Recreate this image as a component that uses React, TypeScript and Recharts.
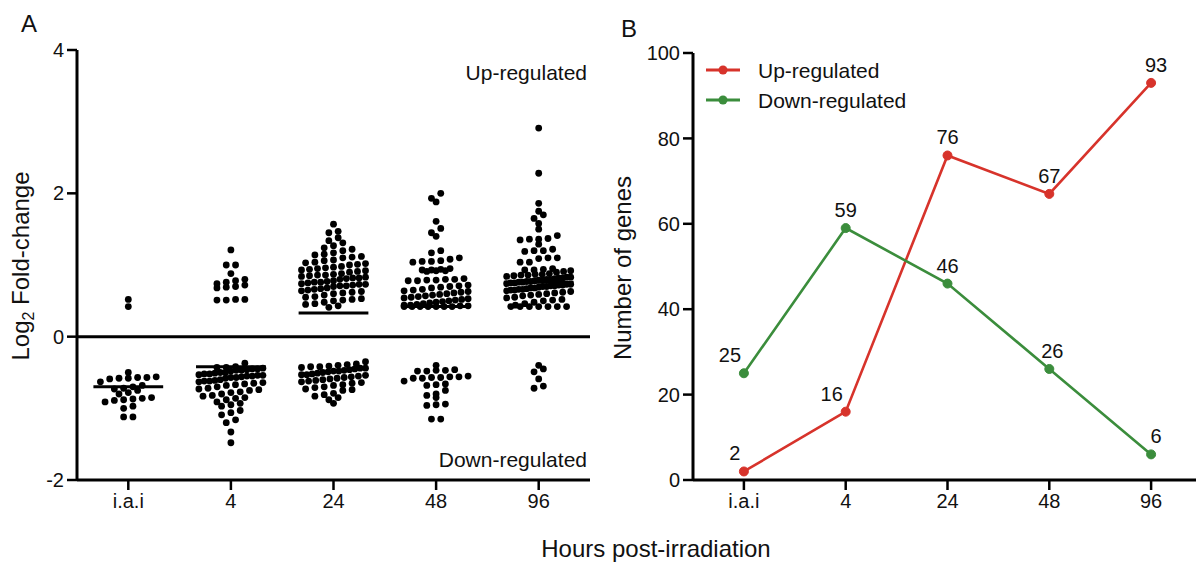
import React from 'react';
import { ScatterChart, Scatter, XAxis, YAxis, ReferenceLine, LineChart, Line, LabelList, Legend } from 'recharts';

// ---------- DATA ----------
const categories = ['i.a.i', '4', '24', '48', '96'];
const seriesNames = ['Up-regulated', 'Down-regulated'];

// Panel A: log2 fold-change of each regulated gene
const upIai = [0.42, 0.52];
const up4 = [1.21, 1.0, 1.0, 0.88, 0.8, 0.78, 0.76, 0.74, 0.72, 0.7, 0.69, 0.68, 0.52, 0.52, 0.51, 0.51];
const up24 = [
  1.57, 1.47, 1.45, 1.38, 1.34, 1.31, 1.27, 1.24, 1.22, 1.2,
  1.17, 1.15, 1.14, 1.12, 1.11, 1.1, 1.07, 1.06, 1.04, 1.03, 1.02, 1.01, 1.0,
  0.98, 0.97, 0.96, 0.95, 0.94, 0.93, 0.92, 0.91, 0.9,
  0.88, 0.87, 0.86, 0.86, 0.85, 0.84, 0.83, 0.82, 0.82, 0.81, 0.8,
  0.78, 0.77, 0.76, 0.76, 0.75, 0.74, 0.73, 0.73, 0.72, 0.71, 0.71, 0.7,
  0.68, 0.67, 0.66, 0.65, 0.64, 0.63, 0.62, 0.61, 0.6,
  0.58, 0.56, 0.55, 0.53, 0.52, 0.51, 0.5,
  0.48, 0.46, 0.45, 0.43, 0.41,
];
const up48 = [
  2.0, 1.93, 1.88, 1.61, 1.51, 1.45, 1.4, 1.2, 1.17, 1.1, 1.08,
  1.06, 1.05, 1.05, 1.04,
  0.95, 0.94, 0.93, 0.93, 0.92, 0.92, 0.91,
  0.81, 0.8, 0.8, 0.79, 0.79, 0.78, 0.78,
  0.72, 0.71, 0.7, 0.69, 0.68,
  0.66, 0.65, 0.64, 0.63, 0.62, 0.61, 0.6, 0.59, 0.58, 0.57, 0.56, 0.55, 0.54,
  0.53, 0.52, 0.51, 0.5, 0.49, 0.48, 0.47, 0.46, 0.45, 0.44, 0.44, 0.43, 0.43,
  0.42, 0.42, 0.42, 0.42, 0.42, 0.42, 0.42,
];
const up96 = [
  2.91, 2.28, 1.86, 1.75, 1.7, 1.65, 1.58, 1.5,
  1.41, 1.37, 1.36, 1.36, 1.35, 1.29,
  1.22, 1.2, 1.2, 1.19, 1.1, 1.1, 1.09, 1.04, 1.04,
  0.95, 0.94, 0.93, 0.93, 0.92, 0.91, 0.9,
  0.88, 0.87, 0.87, 0.86, 0.86, 0.85,
  0.84, 0.83, 0.83, 0.82, 0.82, 0.81, 0.8, 0.8,
  0.79, 0.79, 0.78, 0.77, 0.77, 0.76, 0.76, 0.75, 0.75,
  0.74, 0.73, 0.73, 0.72, 0.72, 0.71, 0.71, 0.7, 0.7,
  0.69, 0.68, 0.68, 0.67, 0.66, 0.66, 0.65, 0.65,
  0.64, 0.63, 0.62, 0.61, 0.6, 0.59, 0.58,
  0.57, 0.55, 0.54, 0.52, 0.51, 0.5,
  0.48, 0.46, 0.44,
  0.42, 0.42, 0.42, 0.42, 0.42, 0.42, 0.42,
];
const downIai = [
  -0.5, -0.56, -0.57, -0.57, -0.58, -0.58, -0.59, -0.63, -0.68, -0.7, -0.72, -0.73, -0.75,
  -0.78, -0.8, -0.85, -0.86, -0.87, -0.88, -0.89, -0.91, -0.97, -1.0, -1.12, -1.12,
];
const down4 = [
  -0.37,
  -0.42, -0.43, -0.43, -0.44, -0.45, -0.45, -0.46, -0.47, -0.47, -0.48,
  -0.5, -0.5, -0.51, -0.52, -0.52, -0.53, -0.54, -0.54, -0.55, -0.55, -0.56, -0.57, -0.57, -0.58,
  -0.6, -0.61, -0.62, -0.62, -0.63, -0.64, -0.65, -0.66, -0.67, -0.68,
  -0.7, -0.72, -0.73, -0.74, -0.75, -0.77, -0.78,
  -0.8, -0.82, -0.83, -0.85, -0.86, -0.88,
  -0.91, -0.93, -0.95, -0.97,
  -1.03, -1.06, -1.09, -1.16, -1.2, -1.33, -1.48,
];
const down24 = [
  -0.35,
  -0.38, -0.39, -0.4, -0.41, -0.42, -0.42, -0.43, -0.44, -0.44, -0.45,
  -0.46, -0.47, -0.48, -0.48, -0.49, -0.5, -0.51, -0.52, -0.53, -0.53, -0.54, -0.55,
  -0.56, -0.57, -0.58, -0.59, -0.6, -0.61, -0.62, -0.63, -0.64, -0.65,
  -0.67, -0.68, -0.7, -0.71, -0.73, -0.74, -0.75,
  -0.79, -0.81, -0.83, -0.85, -0.88, -0.93,
];
const down48 = [
  -0.4, -0.46, -0.47, -0.47, -0.48, -0.48, -0.55, -0.56, -0.56, -0.57, -0.57, -0.58, -0.58,
  -0.62, -0.66, -0.67, -0.68, -0.75, -0.8, -0.82, -0.85, -0.94, -0.95, -0.96, -1.15, -1.15,
];
const down96 = [-0.4, -0.45, -0.49, -0.59, -0.69, -0.72];

const upGroups = [upIai, up4, up24, up48, up96];
const downGroups = [downIai, down4, down24, down48, down96];

// horizontal bars drawn over some groups
const barGroups = [0, 1, 2, 3, 4];
const barValues = [-0.7, -0.42, 0.33, 0.42, 0.76];

// Panel B: number of genes
const upCounts = [2, 16, 76, 67, 93];
const downCounts = [25, 59, 46, 26, 6];

// ---------- STYLE / LAYOUT ----------
const FONT = '"Liberation Sans", Arial, Helvetica, sans-serif';
const TXT = '#111';
const RED = '#d7332b';
const GREEN = '#3b8d3c';

const A_W = 600;
const A_H = 563;
const X_H = 30;
const A_M = { top: 50, right: 10, bottom: 83 - X_H, left: 27 };
const A_YW = 50;
const A_PLOT_W = A_W - A_M.left - A_YW - A_M.right;
const A_PLOT_H = A_H - A_M.top - A_M.bottom - X_H;
const PX_PER_X = A_PLOT_W / 5;
const PX_PER_Y = A_PLOT_H / 6;
const DOT_R = 3.4;
const ROW_H = 7;
const DOT_GAP = 9.3;
const MAX_ROW_W = 64;

const redLabelDx = [-9, -14, 0, 0, 5];
const greenLabelDx = [-14, 0, 0, 3, 5];

// column-scatter layout: values binned into rows, each row spread symmetrically
function swarmOffsets(values: number[]): number[] {
  const rows = new Map<number, number[]>();
  values.forEach((v, i) => {
    const r = Math.round((v * PX_PER_Y) / ROW_H);
    if (!rows.has(r)) rows.set(r, []);
    rows.get(r)!.push(i);
  });
  const out = new Array(values.length).fill(0);
  rows.forEach((idxs) => {
    idxs.sort((a, b) => values[a] - values[b]);
    const n = idxs.length;
    const sp = n > 1 ? Math.min(DOT_GAP, MAX_ROW_W / (n - 1)) : 0;
    idxs.forEach((i, j) => {
      out[i] = (j - (n - 1) / 2) * sp;
    });
  });
  return out;
}

const scatterPoints: { x: number; y: number }[] = [];
[upGroups, downGroups].forEach((groups) => {
  groups.forEach((vals, gi) => {
    const offs = swarmOffsets(vals);
    vals.forEach((v, j) => scatterPoints.push({ x: gi + offs[j] / PX_PER_X, y: v }));
  });
});

const lineData = categories.map((c, i) => ({ x: i, cat: c, up: upCounts[i], down: downCounts[i] }));

const tickStyle = { fontSize: 20, fontFamily: FONT, fill: TXT };
const catFormatter = (v: number) => categories[v] ?? '';

const Dot = (props: any) => <circle cx={props.cx} cy={props.cy} r={DOT_R} fill="#000" />;

const makeLabel = (dxs: number[]) => (props: any) => {
  const { x, y, value, index } = props;
  return (
    <text x={x + dxs[index]} y={y - 11} textAnchor="middle" fontSize={20} fontFamily={FONT} fill={TXT}>
      {value}
    </text>
  );
};

const LegendContent = (props: any) => {
  const items = [...(props.payload || [])].sort(
    (a: any, b: any) => seriesNames.indexOf(a.value) - seriesNames.indexOf(b.value)
  );
  return (
    <svg width={220} height={60} style={{ position: 'absolute', left: 0, top: 0, overflow: 'visible' }}>
      {items.map((it: any, i: number) => {
        const y = 15 + i * 30;
        return (
          <g key={i}>
            <line x1={0} y1={y} x2={34} y2={y} stroke={it.color} strokeWidth={3} />
            <circle cx={17} cy={y} r={4.5} fill={it.color} />
            <text x={52} y={y + 7.5} fontSize={21} fontFamily={FONT} fill={TXT}>
              {it.value}
            </text>
          </g>
        );
      })}
    </svg>
  );
};

export default function App() {
  return (
    <div style={{ position: 'absolute', left: 0, top: 0, width: 1196, height: 563, overflow: 'hidden', background: '#fff' }}>
      <div style={{ position: 'absolute', left: 0, top: 0 }}>
        <ScatterChart width={A_W} height={A_H} margin={A_M}>
          <XAxis
            type="number"
            dataKey="x"
            height={X_H}
            domain={[-0.5, 4.5]}
            ticks={[0, 1, 2, 3, 4]}
            interval={0}
            tickFormatter={catFormatter}
            axisLine={{ stroke: '#000', strokeWidth: 3 }}
            tickLine={{ stroke: '#000', strokeWidth: 2.5 }}
            tickSize={10}
            tickMargin={4}
            tick={tickStyle}
            allowDataOverflow
          />
          <YAxis
            type="number"
            dataKey="y"
            width={A_YW}
            domain={[-2, 4]}
            ticks={[-2, 0, 2, 4]}
            interval={0}
            axisLine={{ stroke: '#000', strokeWidth: 3 }}
            tickLine={{ stroke: '#000', strokeWidth: 2.5 }}
            tickSize={10}
            tickMargin={3}
            tick={tickStyle}
            allowDataOverflow
          />
          <ReferenceLine y={0} stroke="#000" strokeWidth={3} />
          {barGroups.map((g, i) => (
            <ReferenceLine
              key={i}
              segment={[
                { x: g - 0.34, y: barValues[i] },
                { x: g + 0.34, y: barValues[i] },
              ]}
              stroke="#000"
              strokeWidth={3}
            />
          ))}
          <Scatter data={scatterPoints} shape={Dot} isAnimationActive={false} />
        </ScatterChart>
      </div>

      <div style={{ position: 'absolute', left: 600, top: 0 }}>
        <LineChart width={610} height={563} data={lineData} margin={{ top: 53, right: 8, bottom: 83 - X_H, left: 33 }}>
          <XAxis
            type="number"
            dataKey="x"
            height={X_H}
            domain={[-0.5, 4.5]}
            ticks={[0, 1, 2, 3, 4]}
            interval={0}
            tickFormatter={catFormatter}
            axisLine={{ stroke: '#000', strokeWidth: 3 }}
            tickLine={{ stroke: '#000', strokeWidth: 2.5 }}
            tickSize={10}
            tickMargin={4}
            tick={tickStyle}
          />
          <YAxis
            type="number"
            width={60}
            domain={[0, 100]}
            ticks={[0, 20, 40, 60, 80, 100]}
            interval={0}
            axisLine={{ stroke: '#000', strokeWidth: 3 }}
            tickLine={{ stroke: '#000', strokeWidth: 2.5 }}
            tickSize={10}
            tickMargin={3}
            tick={tickStyle}
          />
          <Legend
            content={<LegendContent />}
            wrapperStyle={{ position: 'absolute', left: 106, top: 55, width: 0, height: 0, overflow: 'visible' }}
          />
          <Line
            type="linear"
            dataKey="up"
            name={seriesNames[0]}
            stroke={RED}
            strokeWidth={2.6}
            dot={{ r: 4.5, fill: RED, stroke: RED, strokeWidth: 1 }}
            isAnimationActive={false}
          >
            <LabelList dataKey="up" content={makeLabel(redLabelDx)} />
          </Line>
          <Line
            type="linear"
            dataKey="down"
            name={seriesNames[1]}
            stroke={GREEN}
            strokeWidth={2.6}
            dot={{ r: 4.5, fill: GREEN, stroke: GREEN, strokeWidth: 1 }}
            isAnimationActive={false}
          >
            <LabelList dataKey="down" content={makeLabel(greenLabelDx)} />
          </Line>
        </LineChart>
      </div>

      <svg
        width={1196}
        height={563}
        style={{ position: 'absolute', left: 0, top: 0, pointerEvents: 'none' }}
        fontFamily={FONT}
        fill={TXT}
      >
        <text x={21} y={32} fontSize={24}>A</text>
        <text x={621} y={37} fontSize={24}>B</text>
        <text x={587} y={80} fontSize={21} textAnchor="end">Up-regulated</text>
        <text x={587} y={467} fontSize={21} textAnchor="end">Down-regulated</text>
        <text x={656} y={557} fontSize={24} textAnchor="middle">Hours post-irradiation</text>
        <text x={29} y={266} fontSize={24} textAnchor="middle" transform="rotate(-90 29 266)">
          Log<tspan fontSize={16} dy={5}>2</tspan>
          <tspan dy={-5}> Fold-change</tspan>
        </text>
        <text x={631} y={268} fontSize={24} textAnchor="middle" transform="rotate(-90 631 268)">
          Number of genes
        </text>
      </svg>
    </div>
  );
}
